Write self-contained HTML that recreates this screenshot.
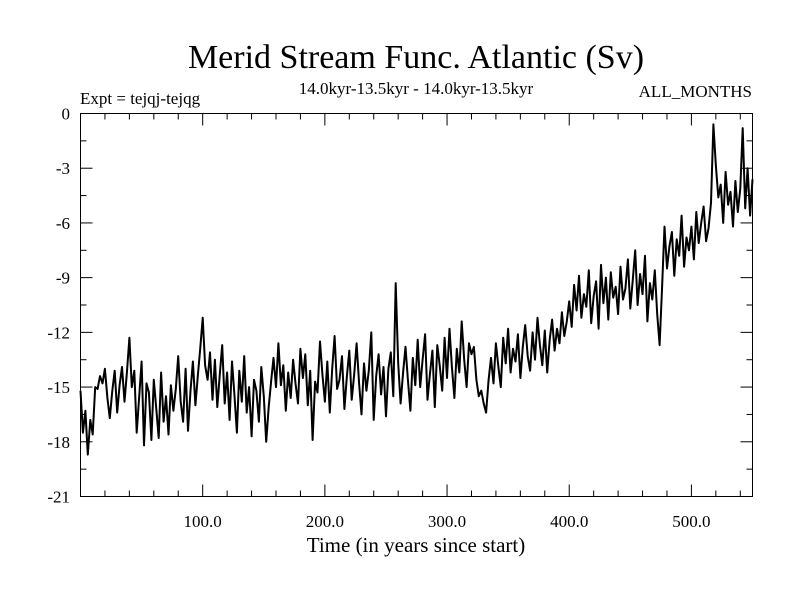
<!DOCTYPE html>
<html><head><meta charset="utf-8"><style>
body{margin:0;background:#fff;}
svg text{font-family:"Liberation Serif",serif;fill:#000;}
</style></head><body>
<svg id="chart" width="800" height="600" viewBox="0 0 800 600">
<text x="416" y="68" font-size="34" text-anchor="middle">Merid Stream Func. Atlantic (Sv)</text>
<text x="416" y="94" font-size="17" text-anchor="middle">14.0kyr-13.5kyr - 14.0kyr-13.5kyr</text>
<text x="80" y="104" font-size="17">Expt = tejqj-tejqg</text>
<text x="752" y="97" font-size="17" text-anchor="end">ALL_MONTHS</text>
<text x="416" y="552" font-size="21" text-anchor="middle">Time (in years since start)</text>
<g id="axes"></g>
<path id="series" fill="none" stroke="#000" stroke-width="2" stroke-linejoin="round"/>
<rect x="80.5" y="113.5" width="672" height="383" fill="none" stroke="#000" stroke-width="1"/>
</svg>
<script>
const xTicks=[100,200,300,400,500];
const xTickLabels=["100.0","200.0","300.0","400.0","500.0"];
const yTicks=[0,-3,-6,-9,-12,-15,-18,-21];
const yTickLabels=["0","-3","-6","-9","-12","-15","-18","-21"];
const startYear=0, stepYears=2;
const values=[
-15.2,-17.5,-16.3,-18.7,-16.8,-17.6,-15.0,-15.1,-14.4,-14.8,
-14.0,-15.6,-16.7,-15.2,-14.1,-16.4,-14.9,-13.9,-15.8,-14.2,
-12.3,-15.0,-14.1,-17.5,-15.6,-13.6,-18.2,-14.8,-15.3,-17.9,
-14.6,-16.2,-17.8,-14.2,-16.9,-15.5,-17.6,-14.9,-16.3,-15.1,
-13.3,-15.8,-16.9,-14.0,-17.4,-15.2,-13.6,-16.0,-14.4,-12.9,
-11.2,-13.8,-14.6,-13.1,-15.7,-13.5,-16.1,-14.3,-12.7,-15.9,
-14.2,-16.8,-13.6,-15.4,-17.5,-14.1,-15.8,-13.3,-16.4,-15.0,
-17.7,-14.6,-15.2,-16.9,-13.9,-15.5,-18.0,-16.1,-14.7,-13.4,
-15.0,-12.6,-14.9,-13.8,-16.3,-14.2,-15.6,-13.5,-14.8,-15.9,
-12.9,-14.5,-13.2,-16.0,-14.1,-17.9,-14.7,-15.3,-12.5,-14.3,
-15.8,-13.6,-16.4,-14.0,-12.2,-15.1,-14.6,-13.3,-16.2,-14.4,
-13.0,-15.7,-14.3,-12.6,-14.8,-16.5,-13.7,-15.2,-14.1,-12.0,
-16.8,-14.4,-13.2,-15.4,-13.9,-16.6,-14.0,-13.1,-15.5,-9.3,
-13.7,-15.9,-14.2,-12.8,-14.6,-16.3,-13.4,-14.9,-12.4,-15.0,
-13.5,-12.1,-15.7,-14.3,-13.0,-16.1,-12.7,-13.8,-15.2,-12.3,
-14.5,-11.8,-13.9,-15.6,-12.9,-14.2,-11.4,-13.5,-15.0,-12.6,
-13.2,-12.8,-14.6,-15.5,-15.2,-15.9,-16.4,-14.6,-13.4,-14.8,
-12.6,-13.9,-15.0,-12.3,-13.7,-11.8,-14.2,-12.9,-13.6,-12.1,
-14.5,-12.8,-11.6,-13.3,-14.1,-12.0,-13.5,-11.2,-12.7,-13.8,
-11.9,-14.2,-12.4,-11.3,-13.0,-11.8,-12.6,-10.9,-12.2,-11.4,
-10.3,-11.7,-9.4,-10.8,-8.9,-11.2,-9.9,-10.6,-8.6,-11.5,
-10.0,-9.2,-11.8,-8.3,-10.4,-9.0,-11.3,-8.7,-10.1,-9.5,
-11.0,-8.4,-10.2,-9.6,-8.0,-10.7,-9.1,-7.5,-10.5,-8.8,
-9.9,-7.8,-11.4,-9.3,-10.2,-8.6,-11.0,-12.7,-9.5,-6.2,
-8.5,-7.3,-6.5,-8.9,-6.9,-7.8,-5.6,-8.4,-6.8,-7.5,
-6.2,-8.0,-5.4,-7.1,-6.0,-5.1,-7.0,-6.3,-4.9,-0.6,
-2.8,-4.6,-3.9,-6.0,-3.2,-5.0,-4.3,-6.2,-3.7,-5.4,
-4.1,-0.8,-5.2,-3.0,-5.6,-3.6
];
const X0=80.5,X1=752.5,Y0=113.5,Y1=496.5,xMin=0,xMax=550,yMin=-21,yMax=0;
function xs(v){return X0+(v-xMin)/(xMax-xMin)*(X1-X0);}
function ys(v){return Y1-(v-yMin)/(yMax-yMin)*(Y1-Y0);}
const NS="http://www.w3.org/2000/svg";
const axes=document.getElementById('axes');
function line(x1,y1,x2,y2,name){
  const l=document.createElementNS(NS,'line');
  l.setAttribute('x1',x1);l.setAttribute('y1',y1);l.setAttribute('x2',x2);l.setAttribute('y2',y2);
  l.setAttribute('stroke','#000');l.setAttribute('stroke-width','1');
  
  
  axes.appendChild(l);
}
function text(x,y,s,anchor,name){
  const t=document.createElementNS(NS,'text');
  t.setAttribute('x',x);t.setAttribute('y',y);t.setAttribute('font-size','17');t.setAttribute('text-anchor',anchor);
  t.textContent=s;
  
  
  axes.appendChild(t);
}
for(let v=20;v<xMax;v+=20){
  const big=v%100===0, len=big?12:6;
  line(xs(v),Y1,xs(v),Y1-len,'x-tick');
  line(xs(v),Y0,xs(v),Y0+len,'x-tick-top');
}
xTicks.forEach((v,i)=>text(xs(v),527,xTickLabels[i],'middle','x-tick-label'));
for(let v=yMin;v<=yMax;v+=1.5){
  const big=Math.abs(v%3)<1e-6, len=big?12:6;
  line(X0,ys(v),X0+len,ys(v),'y-tick');
  line(X1,ys(v),X1-len,ys(v),'y-tick-right');
}
yTicks.forEach((v,i)=>text(70,ys(v)+6,yTickLabels[i],'end','y-tick-label'));
let d='';
values.forEach((v,i)=>{const yr=Math.min(startYear+i*stepYears,xMax);d+=(i?'L':'M')+xs(yr).toFixed(1)+' '+ys(v).toFixed(1);});
document.getElementById('series').setAttribute('d',d);
</script>
</body></html>
